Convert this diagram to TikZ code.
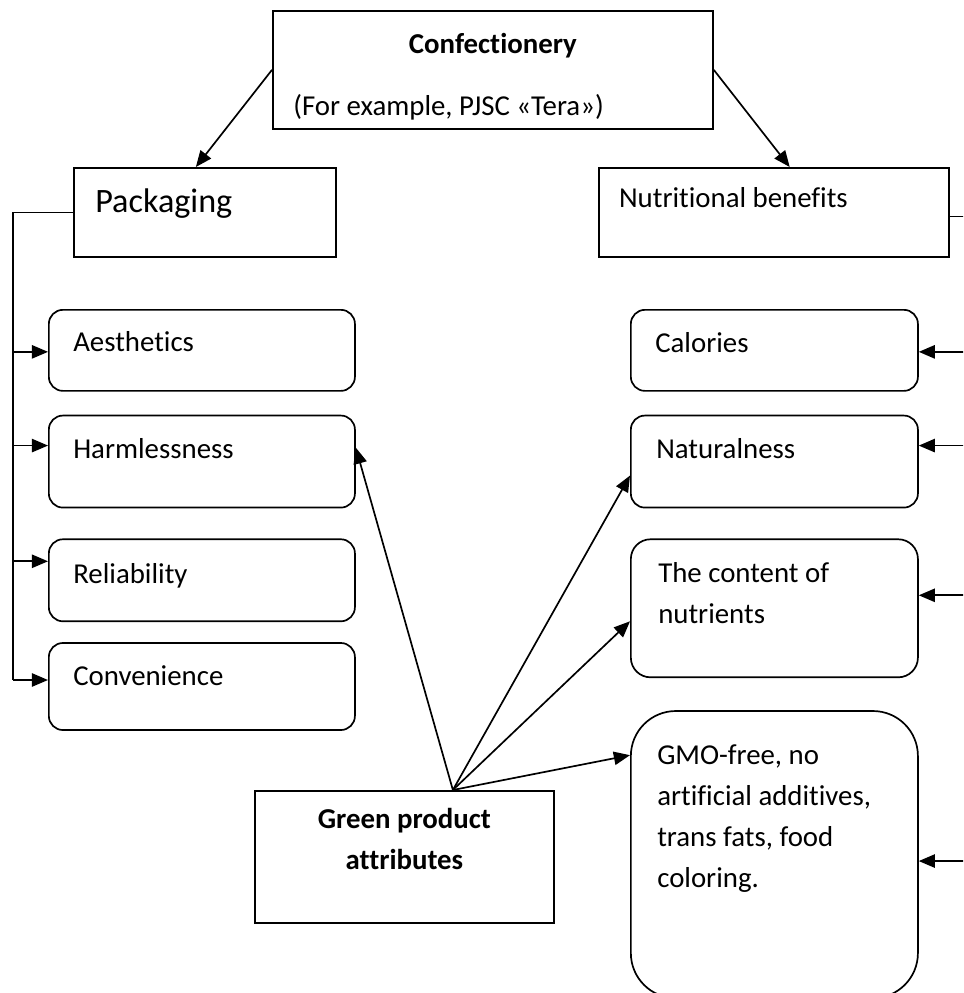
\documentclass[tikz,border=0pt]{standalone}
\usepackage{fontspec}
\setmainfont{Carlito}[Ligatures={TeX,NoCommon}]
\usetikzlibrary{
    arrows.meta,
    positioning
}
\tikzset{
    plainbox/.style={
        draw,
        rectangle,
        line width=1.2pt,
        inner sep=0pt,
        anchor=north west
    },
    itembox/.style={
        plainbox,
        rounded corners=10pt
    },
    boxtext/.style={
        anchor=base west,
        inner sep=0pt,
        align=left,
        font=\fontsize{20.5}{29}\selectfont
    },
    link/.style={
        -{Triangle[length=11.5pt, width=9.5pt]},
        line width=1.2pt
    },
    bus/.style={
        line width=1.2pt
    }
}

\begin{document}
\begin{tikzpicture}[x=0.025cm, y=-0.025cm]
        \clip (0,0) rectangle (963,993);

        % Confectionery (top box, second line cut off by the box)
        \node [plainbox, minimum width=11cm, minimum height=2.95cm] (conf) at (272,10) {};
        \node [boxtext, anchor=base, font=\fontsize{20.5}{29}\selectfont\bfseries] (conf_title) at ([shift={(0,43)}]conf.north) {Confectionery};
        \begin{scope}
            \clip (conf.north west) rectangle ([shift={(0,-10)}]conf.south east);
            \node [boxtext] (conf_note) at ([shift={(21,105)}]conf.north west) {(For example, PJSC «Tera»)};
        \end{scope}

        % Packaging and Nutritional benefits
        \node [plainbox, minimum width=6.55cm, minimum height=2.225cm] (pack) at (73,167) {};
        \node [boxtext, font=\fontsize{24.3}{29}\selectfont] (pack_text) at ([shift={(22,45)}]pack.north west) {Packaging};

        \node [plainbox, minimum width=8.75cm, minimum height=2.225cm, right=6.525cm of pack] (nutr) {};
        \node [boxtext] (nutr_text) at ([shift={(21,40)}]nutr.north west) {Nutritional benefits};

        % Packaging items (left column)
        \node [itembox, minimum width=7.65cm, minimum height=2.025cm] (aes) at (48,309) {};
        \node [itembox, minimum width=7.65cm, minimum height=2.3cm, below=0.575cm of aes] (harm) {};
        \node [itembox, minimum width=7.65cm, minimum height=2.05cm, below=0.75cm of harm] (rel) {};
        \node [itembox, minimum width=7.65cm, minimum height=2.175cm, below=0.5cm of rel] (conv) {};

        \node [boxtext] (aes_text) at ([shift={(25,42)}]aes.north west) {Aesthetics};
        \node [boxtext] (harm_text) at ([shift={(25,44)}]harm.north west) {Harmlessness};
        \node [boxtext] (rel_text) at ([shift={(25,45)}]rel.north west) {Reliability};
        \node [boxtext] (conv_text) at ([shift={(25,43)}]conv.north west) {Convenience};

        % Nutritional items (right column)
        \node [itembox, minimum width=7.175cm, minimum height=2.025cm] (cal) at (630,309) {};
        \node [itembox, minimum width=7.175cm, minimum height=2.3cm, below=0.575cm of cal] (nat) {};
        \node [itembox, rounded corners=14pt, minimum width=7.175cm, minimum height=3.45cm, below=0.75cm of nat] (cont) {};
        \node [itembox, rounded corners=32pt, minimum width=7.175cm, minimum height=7.175cm, below=0.8cm of cont] (gmo) {};

        % (base of a multi-line node = its last line)
        \node [boxtext] (cal_text) at ([shift={(25,43)}]cal.north west) {Calories};
        \node [boxtext] (nat_text) at ([shift={(26,44)}]nat.north west) {Naturalness};
        \node [boxtext] (cont_text) at ([shift={(28,85)}]cont.north west) {The content of\\nutrients};
        \node [boxtext] (gmo_text) at ([shift={(27,177)}]gmo.north west) {GMO-free, no\\artificial additives,\\trans fats, food\\coloring.};

        % Green product attributes
        \node [plainbox, minimum width=7.475cm, minimum height=3.3cm] (green) at (254,790) {};
        \node [boxtext, anchor=base, align=center, font=\fontsize{20.5}{29}\selectfont\bfseries] (green_text) at ([shift={(0,79)}]green.north) {Green product\\attributes};

        % Confectionery to Packaging / Nutritional benefits
        \draw [link] (conf.west) -- ([shift={(-9,0)}]pack.north);
        \draw [link] (conf.east) -- ([shift={(16,0)}]nutr.north);

        % Left bus from Packaging
        \coordinate (lbus) at (13,0);
        \foreach \n/\dy in {aes/1.5, harm/-16, rel/-19, conv/-6.5}
            \coordinate (\n_in) at ([shift={(0,\dy)}]\n.west);
        \draw [bus] (pack.west) -- (pack.west -| lbus) -- (conv_in -| lbus);
        \foreach \n in {aes, harm, rel, conv}
            \draw [link] (\n_in -| lbus) -- (\n_in);

        % Right bus from Nutritional benefits (runs past the edge)
        \coordinate (rbus) at (975,0);
        \coordinate (nutr_out) at ([shift={(0,4)}]nutr.east);
        \foreach \n/\dy in {cal/1.5, nat/-16, cont/-13, gmo/6.5}
            \coordinate (\n_in) at ([shift={(0,\dy)}]\n.east);
        \draw [bus] (nutr_out) -- (nutr_out -| rbus) -- (gmo_in -| rbus);
        \foreach \n in {cal, nat, cont, gmo}
            \draw [link] (\n_in -| rbus) -- (\n_in);

        % Green product attributes arrows
        \coordinate (green_top) at ([shift={(48.5,0)}]green.north);
        \draw [link] (green_top) -- ([shift={(0,-14)}]harm.east);
        \draw [link] (green_top) -- ([shift={(0,14)}]nat.west);
        \draw [link] (green_top) -- ([shift={(0,13)}]cont.west);
        \draw [link] (green_top) -- ([shift={(0,45)}]gmo.north west);
    \end{tikzpicture}
\end{document}
